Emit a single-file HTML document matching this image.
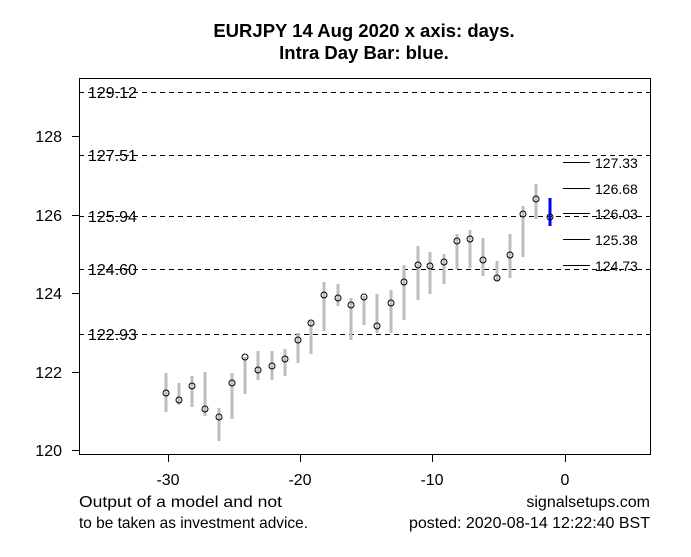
<!DOCTYPE html>
<html><head><meta charset="utf-8"><style>
body{margin:0;background:#fff}
svg text{font-family:"Liberation Sans",Arial,sans-serif}
</style></head><body>
<svg width="691" height="552" viewBox="0 0 691 552" xmlns="http://www.w3.org/2000/svg">
<rect width="691" height="552" fill="#fff"/>
<text x="364" y="37" font-size="18.5" font-weight="bold" text-anchor="middle">EURJPY 14 Aug 2020 x axis: days.</text>
<text x="364" y="59" font-size="18.5" font-weight="bold" text-anchor="middle">Intra Day Bar: blue.</text>
<g stroke="#000" stroke-dasharray="5,4" stroke-width="1">
<line x1="79" x2="650" y1="92.5" y2="92.5"/>
<line x1="79" x2="650" y1="155.5" y2="155.5"/>
<line x1="79" x2="650" y1="216.5" y2="216.5"/>
<line x1="79" x2="650" y1="269.5" y2="269.5"/>
<line x1="79" x2="650" y1="334.5" y2="334.5"/>
</g>
<g font-size="16">
<text x="88" y="98">129.12</text>
<text x="88" y="161">127.51</text>
<text x="88" y="222">125.94</text>
<text x="88" y="275">124.60</text>
<text x="88" y="340">122.93</text>
</g>
<g stroke="#000" stroke-width="1">
<line x1="563" x2="590" y1="162.5" y2="162.5"/>
<line x1="563" x2="590" y1="188.5" y2="188.5"/>
<line x1="563" x2="590" y1="213.5" y2="213.5"/>
<line x1="563" x2="590" y1="239.5" y2="239.5"/>
<line x1="563" x2="590" y1="265.5" y2="265.5"/>
</g>
<g font-size="14">
<text x="595" y="168">127.33</text>
<text x="595" y="194">126.68</text>
<text x="595" y="219">126.03</text>
<text x="595" y="245">125.38</text>
<text x="595" y="271">124.73</text>
</g>
<g stroke="#bebebe" stroke-width="3">
<line x1="166" x2="166" y1="373" y2="412"/>
<line x1="179" x2="179" y1="383" y2="405"/>
<line x1="192" x2="192" y1="376" y2="407"/>
<line x1="205" x2="205" y1="372" y2="416"/>
<line x1="219" x2="219" y1="408" y2="441"/>
<line x1="232" x2="232" y1="373" y2="419"/>
<line x1="245" x2="245" y1="357" y2="394"/>
<line x1="258" x2="258" y1="351" y2="380"/>
<line x1="272" x2="272" y1="351" y2="380"/>
<line x1="285" x2="285" y1="349" y2="376"/>
<line x1="298" x2="298" y1="333" y2="363"/>
<line x1="311" x2="311" y1="321" y2="354"/>
<line x1="324" x2="324" y1="282" y2="331"/>
<line x1="338" x2="338" y1="284" y2="306"/>
<line x1="351" x2="351" y1="298" y2="340"/>
<line x1="364" x2="364" y1="296" y2="325"/>
<line x1="377" x2="377" y1="294" y2="333"/>
<line x1="391" x2="391" y1="290" y2="333"/>
<line x1="404" x2="404" y1="265" y2="320"/>
<line x1="418" x2="418" y1="246" y2="300"/>
<line x1="430" x2="430" y1="252" y2="294"/>
<line x1="444" x2="444" y1="254" y2="284"/>
<line x1="457" x2="457" y1="234" y2="269"/>
<line x1="470" x2="470" y1="230" y2="268"/>
<line x1="483" x2="483" y1="238" y2="276"/>
<line x1="497" x2="497" y1="261" y2="281"/>
<line x1="510" x2="510" y1="234" y2="278"/>
<line x1="523" x2="523" y1="206" y2="257"/>
<line x1="536" x2="536" y1="184" y2="219"/>
</g>
<line x1="550" x2="550" y1="198" y2="226" stroke="#0000ff" stroke-width="3"/>
<g fill="none" stroke="#000" stroke-width="1">
<circle cx="166" cy="393" r="3"/><circle cx="179" cy="400" r="3"/><circle cx="192" cy="386" r="3"/>
<circle cx="205" cy="409" r="3"/><circle cx="219" cy="417" r="3"/><circle cx="232" cy="383" r="3"/>
<circle cx="245" cy="357" r="3"/><circle cx="258" cy="370" r="3"/><circle cx="272" cy="366" r="3"/>
<circle cx="285" cy="359" r="3"/><circle cx="298" cy="340" r="3"/><circle cx="311" cy="323" r="3"/>
<circle cx="324" cy="295" r="3"/><circle cx="338" cy="298" r="3"/><circle cx="351" cy="305" r="3"/>
<circle cx="364" cy="297" r="3"/><circle cx="377" cy="326" r="3"/><circle cx="391" cy="303" r="3"/>
<circle cx="404" cy="282" r="3"/><circle cx="418" cy="265" r="3"/><circle cx="430" cy="266" r="3"/>
<circle cx="444" cy="262" r="3"/><circle cx="457" cy="241" r="3"/><circle cx="470" cy="239" r="3"/>
<circle cx="483" cy="260" r="3"/><circle cx="497" cy="278" r="3"/><circle cx="510" cy="255" r="3"/>
<circle cx="523" cy="214" r="3"/><circle cx="536" cy="199" r="3"/><circle cx="550" cy="217" r="3"/>
</g>
<rect x="79.5" y="78.5" width="571" height="376" fill="none" stroke="#000"/>
<g stroke="#000">
<line x1="72" x2="79" y1="450.5" y2="450.5"/>
<line x1="72" x2="79" y1="372.5" y2="372.5"/>
<line x1="72" x2="79" y1="293.5" y2="293.5"/>
<line x1="72" x2="79" y1="215.5" y2="215.5"/>
<line x1="72" x2="79" y1="136.5" y2="136.5"/>
<line x1="168.5" x2="168.5" y1="454" y2="462"/>
<line x1="300.5" x2="300.5" y1="454" y2="462"/>
<line x1="432.5" x2="432.5" y1="454" y2="462"/>
<line x1="565.5" x2="565.5" y1="454" y2="462"/>
</g>
<g font-size="16" text-anchor="end">
<text x="62" y="456">120</text><text x="62" y="378">122</text><text x="62" y="299">124</text>
<text x="62" y="221">126</text><text x="62" y="142">128</text>
</g>
<g font-size="16" text-anchor="middle">
<text x="168" y="485">-30</text><text x="300" y="485">-20</text><text x="432" y="485">-10</text><text x="565" y="485">0</text>
</g>
<g font-size="16">
<text x="79" y="507" textLength="203" lengthAdjust="spacingAndGlyphs">Output of a model and not</text>
<text x="79" y="528" textLength="229" lengthAdjust="spacingAndGlyphs">to be taken as investment advice.</text>
<text x="650" y="507" text-anchor="end">signalsetups.com</text>
<text x="650" y="528" text-anchor="end">posted: 2020-08-14 12:22:40 BST</text>
</g>
</svg>
</body></html>
